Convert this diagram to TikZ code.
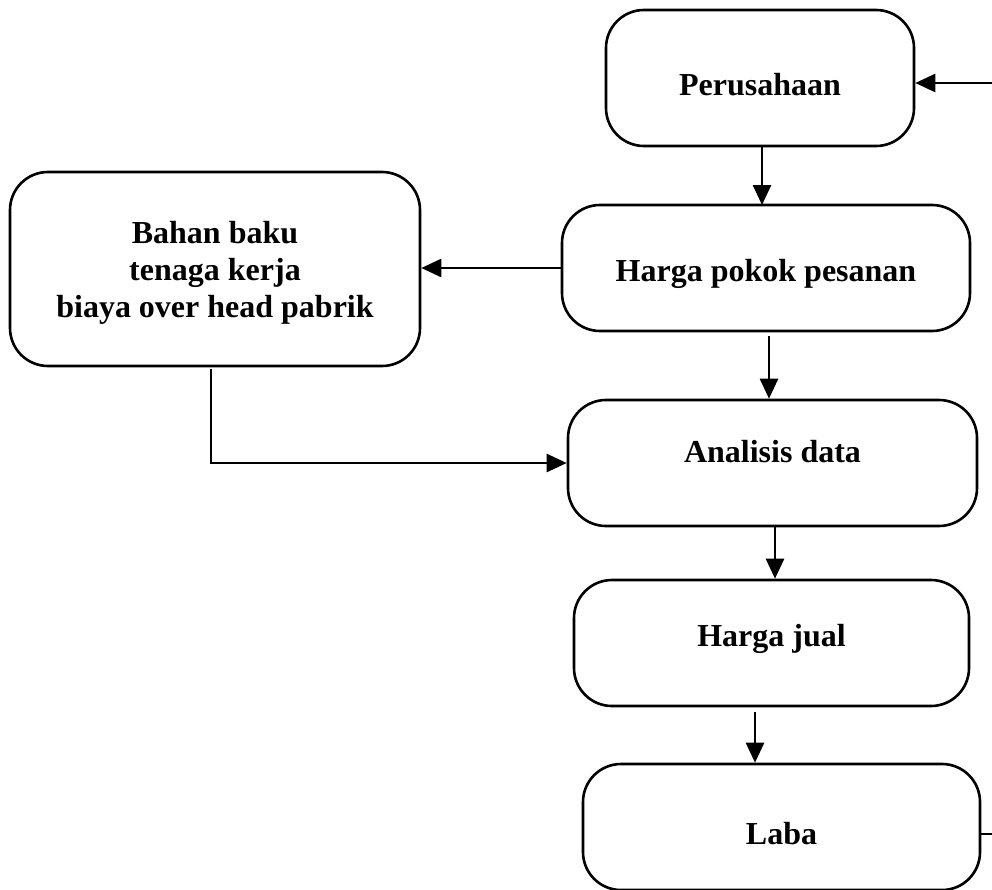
\documentclass[tikz,border=0pt]{standalone}
\usepackage{fontspec}
\setmainfont{Liberation Serif}
\usetikzlibrary{arrows.meta}
\begin{document}
\begin{tikzpicture}[x=1pt,y=-1pt,
  box/.style={draw,line width=2.6pt,rounded corners=38pt,inner sep=0pt},
  lbl/.style={font=\fontsize{32}{37}\selectfont\bfseries,align=center,inner sep=0pt},
  conn/.style={line width=2.6pt,-{Triangle[length=20pt,width=18pt]}},
  plain/.style={line width=2.6pt}]
\useasboundingbox (0,0) rectangle (992,889);
\node[box,minimum width=308pt,minimum height=136pt] (per) at (760,78) {};
\node[box,minimum width=410pt,minimum height=194pt] (bah) at (215,269) {};
\node[box,minimum width=408pt,minimum height=126pt] (hpp) at (766,268) {};
\node[box,minimum width=409pt,minimum height=126pt] (ana) at (772.5,463) {};
\node[box,minimum width=395pt,minimum height=126pt] (hj) at (771.5,643) {};
\node[box,minimum width=397pt,minimum height=126pt] (lab) at (781.5,827) {};
\node[lbl] (tper) at ([yshift=-7pt]per.center) {Perusahaan};
\node[lbl] (tbah) at ([yshift=-4pt]bah.center) {Bahan baku\\tenaga kerja\\biaya over head pabrik};
\node[lbl] (thpp) at ([yshift=-6pt]hpp.center) {Harga pokok pesanan};
\node[lbl] (tana) at ([yshift=11pt]ana.center) {Analisis data};
\node[lbl] (thj) at ([yshift=4pt]hj.center) {Harga jual};
\node[lbl] (tlab) at ([yshift=-7pt]lab.center) {Laba};
\coordinate (e1) at (992,83);
\coordinate (e2) at (992,834);
\draw[conn] (per.south -| 762,0) -- (762,205);
\draw[conn] (hpp.west) -- (bah.east |- hpp.west);
\draw[conn] (769,336) -- (ana.north -| 769,0);
\draw[conn] (211,369) |- (ana.west);
\draw[conn] (775,527) -- (hj.north -| 775,0);
\draw[conn] (755,712) -- (lab.north -| 755,0);
\draw[plain] (lab.east |- e2) -- (e2);
\draw[conn] (e1) -- (per.east |- e1);
\end{tikzpicture}
\end{document}
